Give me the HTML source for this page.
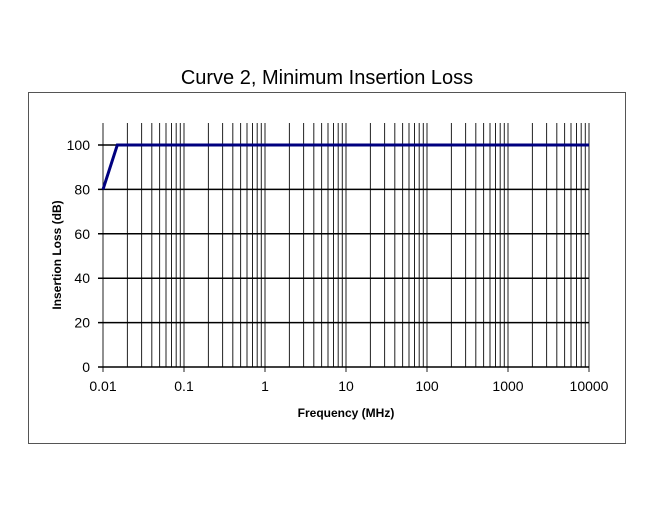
<!DOCTYPE html>
<html><head><style>
body{margin:0;background:#fff;}
svg{display:block;font-family:"Liberation Sans",Arial,sans-serif;}
</style></head><body>
<svg width="650" height="527" xmlns="http://www.w3.org/2000/svg">
<text x="327" y="84" font-size="20" text-anchor="middle" fill="#000">Curve 2, Minimum Insertion Loss</text>
<rect x="28.5" y="92.5" width="597" height="351" fill="none" stroke="#555" stroke-width="1"/>
<path fill="none" stroke="#222" stroke-width="1" d="
M103 123V372M127.4 123V367M141.6 123V367M151.8 123V367M159.6 123V367M166 123V367M171.5 123V367M176.2 123V367M180.3 123V367
M184 123V372M208.4 123V367M222.6 123V367M232.8 123V367M240.6 123V367M247 123V367M252.5 123V367M257.2 123V367M261.3 123V367
M265 123V372M289.4 123V367M303.6 123V367M313.8 123V367M321.6 123V367M328 123V367M333.5 123V367M338.2 123V367M342.3 123V367
M346 123V372M370.4 123V367M384.6 123V367M394.8 123V367M402.6 123V367M409 123V367M414.5 123V367M419.2 123V367M423.3 123V367
M427 123V372M451.4 123V367M465.6 123V367M475.8 123V367M483.6 123V367M490 123V367M495.5 123V367M500.2 123V367M504.3 123V367
M508 123V372M532.4 123V367M546.6 123V367M556.8 123V367M564.6 123V367M571 123V367M576.5 123V367M581.2 123V367M585.3 123V367
M589 123V372"/>
<path fill="none" stroke="#000" stroke-width="1.5" d="M98 367H589M98 322.6H589M98 278.2H589M98 233.8H589M98 189.4H589M98 145H589"/>
<g font-size="14" text-anchor="end">
<text x="90" y="372">0</text>
<text x="90" y="327.6">20</text>
<text x="90" y="283.2">40</text>
<text x="90" y="238.8">60</text>
<text x="90" y="194.4">80</text>
<text x="90" y="150">100</text>
</g>
<g font-size="14" text-anchor="middle">
<text x="103" y="391">0.01</text>
<text x="184" y="391">0.1</text>
<text x="265" y="391">1</text>
<text x="346" y="391">10</text>
<text x="427" y="391">100</text>
<text x="508" y="391">1000</text>
<text x="589" y="391">10000</text>
</g>
<polyline points="103,189.4 117.3,145 589,145" fill="none" stroke="#00007f" stroke-width="3"/>
<text x="346" y="417" font-size="12" font-weight="bold" text-anchor="middle">Frequency (MHz)</text>
<text transform="translate(61,255) rotate(-90)" font-size="12" font-weight="bold" text-anchor="middle">Insertion Loss (dB)</text>
</svg>
</body></html>
